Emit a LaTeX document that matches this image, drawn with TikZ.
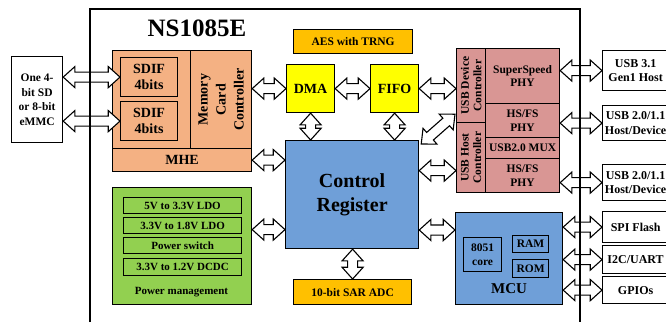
\documentclass[tikz,border=0pt]{standalone}
\usepackage{fontspec}
\setmainfont{Liberation Serif}
\usetikzlibrary{shapes.arrows, calc}

\definecolor{mheorange}{HTML}{F4B183}
\definecolor{dmayellow}{HTML}{FFFF00}
\definecolor{aesgold}{HTML}{FFC000}
\definecolor{regblue}{HTML}{6F9FD8}
\definecolor{usbpink}{HTML}{D99694}
\definecolor{pwrgreen}{HTML}{92D050}

\tikzset{
  blk/.style={draw, line width=1.2pt, inner sep=0pt, anchor=north west, align=center,
    font=\bfseries\fontsize{11.5}{13.5}\selectfont},
  fsbig/.style={font=\bfseries\fontsize{14}{16}\selectfont},
  fsreg/.style={font=\bfseries\fontsize{20}{24}\selectfont},
  fsext/.style={font=\bfseries\fontsize{12}{14.5}\selectfont},
  buslink/.style={double arrow, draw, fill=white, line width=1.1pt, inner xsep=0pt,
    inner ysep=4.5pt, double arrow head extend=5.5pt, double arrow tip angle=84},
}

% fat two-way arrow between two points
\newcommand{\linkbus}[2]{%
  \path let \p1=(#1), \p2=(#2), \n1={atan2(\y2-\y1,\x2-\x1)},
    \n2={veclen(\x2-\x1,\y2-\y1)} in
    node[buslink, minimum height=\n2, rotate=\n1] at ($(\p1)!0.5!(\p2)$) {};}

\begin{document}
\begin{tikzpicture}[x=1pt, y=-1pt]
  \useasboundingbox (0,0) rectangle (666,322);

  % title
  \node[font=\bfseries\fontsize{25}{30}\selectfont] (title) at (197,28) {NS1085E};

  % card side
  \node[blk, minimum width=51, minimum height=86, font=\bfseries\fontsize{11.5}{14.5}\selectfont]
    (sd) at (11,56) {One 4-\\bit SD\\or 8-bit\\eMMC};
  \node[blk, fill=mheorange, minimum width=139, minimum height=121] (mhe) at (112,50) {};
  \node[blk, fsbig, minimum width=139, minimum height=23] (mhebar) at (112,148) {MHE};
  \node[blk, minimum width=61, minimum height=98] (mcc) at (190,50) {};
  \node[rotate=90, align=center, font=\bfseries\fontsize{14}{18}\selectfont] (mcctxt) at (mcc) {Memory\\Card\\Controller};
  \node[blk, fsbig, minimum width=57, minimum height=39] (sdif1) at (120,57) {SDIF\\4bits};
  \node[blk, fsbig, minimum width=57, minimum height=39] (sdif2) at (120,101) {SDIF\\4bits};

  % data path
  \node[blk, fill=aesgold, minimum width=119, minimum height=24] (aes) at (293,29) {AES with TRNG};
  \node[blk, fsbig, fill=dmayellow, minimum width=48, minimum height=48] (dma) at (286,64) {DMA};
  \node[blk, fsbig, fill=dmayellow, minimum width=48, minimum height=48] (fifo) at (370,64) {FIFO};
  \node[blk, fsreg, fill=regblue, minimum width=133, minimum height=108] (ctrl) at (285,140) {Control\\Register};
  \node[blk, fill=aesgold, minimum width=118, minimum height=25] (adc) at (293,279) {10-bit SAR ADC};

  % power
  \node[blk, fill=pwrgreen, minimum width=139, minimum height=117] (power) at (112,187) {};
  \node[blk, minimum width=118, minimum height=16, font=\bfseries\fontsize{11}{13}\selectfont] (ldo1) at (123,197) {5V to 3.3V LDO};
  \node[blk, minimum width=118, minimum height=16, font=\bfseries\fontsize{11}{13}\selectfont] (ldo2) at (123,217) {3.3V to 1.8V LDO};
  \node[blk, minimum width=118, minimum height=16, font=\bfseries\fontsize{11}{13}\selectfont] (pwsw) at (123,237) {Power switch};
  \node[blk, minimum width=118, minimum height=17, font=\bfseries\fontsize{11}{13}\selectfont] (dcdc) at (123,258) {3.3V to 1.2V DCDC};
  \node[font=\bfseries\fontsize{11}{13}\selectfont] (pwrtxt) at (181.5,292) {Power management};

  % usb
  \node[blk, fill=usbpink, minimum width=29, minimum height=74] (devctl) at (456,48) {};
  \node[rotate=90, align=center, font=\bfseries\fontsize{11.5}{12.5}\selectfont] (devtxt) at (devctl) {USB Device\\Controller};
  \node[blk, fill=usbpink, minimum width=29, minimum height=70] (hostctl) at (456,122) {};
  \node[rotate=90, align=center, font=\bfseries\fontsize{11.5}{12.5}\selectfont] (hosttxt) at (hostctl) {USB Host\\Controller};
  \node[blk, fill=usbpink, minimum width=74, minimum height=55] (ssphy) at (485,48) {SuperSpeed\\PHY};
  \node[blk, fill=usbpink, minimum width=74, minimum height=34] (hsphy1) at (485,103) {HS/FS\\PHY};
  \node[blk, fill=usbpink, minimum width=74, minimum height=21] (mux) at (485,137) {USB2.0 MUX};
  \node[blk, fill=usbpink, minimum width=74, minimum height=34] (hsphy2) at (485,158) {HS/FS\\PHY};

  % mcu
  \node[blk, fill=regblue, minimum width=107, minimum height=92] (mcu) at (455,212) {};
  \node[blk, minimum width=38, minimum height=34, font=\bfseries\fontsize{11.5}{14}\selectfont] (core) at (463,237) {8051\\core};
  \node[blk, minimum width=36, minimum height=17] (ram) at (512,235) {RAM};
  \node[blk, minimum width=36, minimum height=18] (rom) at (512,259) {ROM};
  \node[font=\bfseries\fontsize{15}{18}\selectfont] (mcutxt) at (509,289) {MCU};

  % outside ports
  \node[blk, fsext, minimum width=66, minimum height=40] (usb31) at (602,50) {USB 3.1\\Gen1 Host};
  \node[blk, fsext, minimum width=66, minimum height=35] (usb20a) at (602,105) {USB 2.0/1.1\\Host/Device};
  \node[blk, fsext, minimum width=66, minimum height=36] (usb20b) at (602,164) {USB 2.0/1.1\\Host/Device};
  \node[blk, fsext, minimum width=66, minimum height=31] (spi) at (602,211) {SPI Flash};
  \node[blk, fsext, minimum width=66, minimum height=28] (i2c) at (602,245) {I2C/UART};
  \node[blk, fsext, minimum width=66, minimum height=27] (gpio) at (602,276) {GPIOs};

  % buses
  \linkbus{sd.east |- sdif1.west}{sdif1.west}
  \linkbus{sd.east |- sdif2.west}{sdif2.west}
  \linkbus{mhe.east |- dma.west}{dma.west}
  \linkbus{dma.east}{fifo.west}
  \linkbus{fifo.east}{devctl.west |- fifo.east}
  \linkbus{dma.south}{ctrl.north -| dma.south}
  \linkbus{fifo.south}{ctrl.north -| fifo.south}
  \linkbus{mhebar.east}{ctrl.west |- mhebar.east}
  \linkbus{$(power.east |- ldo2.east)+(0,4)$}{$(ctrl.west |- ldo2.east)+(0,4)$}
  \linkbus{ctrl.south -| adc.north}{adc.north}
  \linkbus{$(ctrl.north east)+(2,4)$}{$(devctl.south west)+(-1,-9)$}
  \linkbus{$(ctrl.east |- hostctl.west)+(0,13)$}{$(hostctl.west)+(0,13)$}
  \linkbus{$(ctrl.east |- mcu.north)+(0,18)$}{$(mcu.north west)+(0,18)$}
  \linkbus{ssphy.east |- usb31.west}{usb31.west}
  \linkbus{hsphy1.east |- usb20a.west}{usb20a.west}
  \linkbus{hsphy2.east |- usb20b.west}{usb20b.west}
  \linkbus{mcu.east |- spi.west}{spi.west}
  \linkbus{mcu.east |- i2c.west}{i2c.west}
  \linkbus{mcu.east |- gpio.west}{gpio.west}

  % chip outline
  \draw[line width=1.6pt] (90,322) -- (90,9) -- (580,9) -- (580,322);
\end{tikzpicture}
\end{document}
